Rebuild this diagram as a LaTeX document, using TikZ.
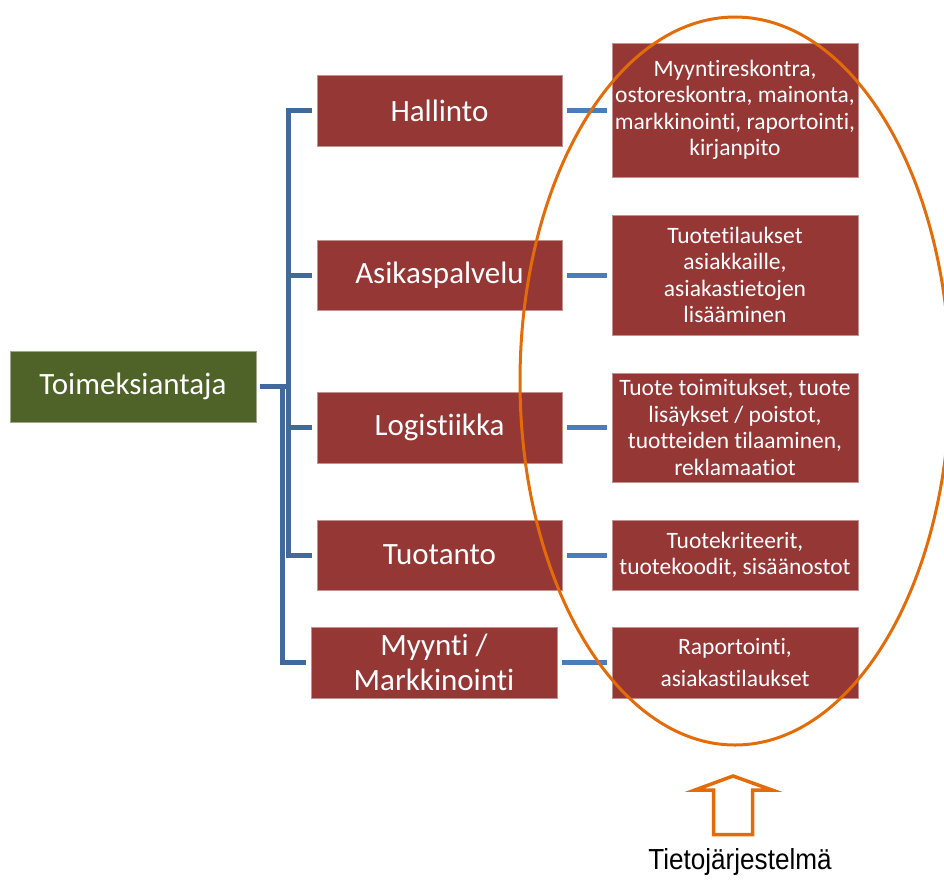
\documentclass[tikz,border=0pt]{standalone}
\usepackage{fontspec}
\setmainfont{Carlito}[Ligatures={NoCommon,NoRare,NoContextual}]
\newfontfamily\arialf{Liberation Sans}
\usetikzlibrary{calc}
\definecolor{boxred}{HTML}{953735}
\definecolor{boxgreen}{HTML}{4F6228}
\definecolor{linkblue}{HTML}{41699C}
\definecolor{tickblue}{HTML}{4A7DBA}
\definecolor{ringorange}{HTML}{E36C09}
\begin{document}
\begin{tikzpicture}[x=1pt,y=-1pt,
  box/.style={fill=boxred, draw=boxred!55!white, line width=0.6pt, text=white, align=center, inner sep=0pt},
  lvl1/.style={box, minimum width=245pt, minimum height=71pt, font=\fontsize{31}{35}\selectfont},
  leaf/.style={box, minimum width=246pt, font=\fontsize{23.5}{26.5}\selectfont},
  conn/.style={draw=linkblue, line width=5pt},
  tick/.style={draw=tickblue, line width=5pt},
  ring/.style={draw=ringorange, line width=3pt}]
\useasboundingbox (0,0) rectangle (944,879);
\clip (0,0) rectangle (944,879);

% root
\node[box, fill=boxgreen, draw=boxgreen!55!white, minimum width=246pt, minimum height=71pt,
      font=\fontsize{31}{35}\selectfont] (toim) at (133,386.5) {Toimeksiantaja};

% level 1
\node[lvl1] (hal) at (439.5,110.5) {Hallinto};
\node[lvl1, minimum height=70pt] (asi) at (439.5,275) {Asikaspalvelu};
\node[lvl1] (log) at (439.5,427.5) {Logistiikka};
\node[lvl1, minimum height=70pt] (tuo) at (439.5,555) {Tuotanto};
\node[lvl1, minimum width=246pt] (myy) at (434,662.5) {Myynti /\\Markkinointi};

% leaves
\node[leaf, minimum height=134pt] (r1) at (735,110) {Myyntireskontra,\\ostoreskontra, mainonta,\\markkinointi, raportointi,\\kirjanpito};
\node[leaf, minimum height=120pt] (r2) at (735,275) {Tuotetilaukset\\asiakkaille,\\asiakastietojen\\lisääminen};
\node[leaf, minimum height=109pt] (r3) at (735,427.5) {Tuote toimitukset, tuote\\lisäykset / poistot,\\tuotteiden tilaaminen,\\reklamaatiot};
\node[leaf, minimum height=70pt] (r4) at (735,555) {Tuotekriteerit,\\tuotekoodit, sisäänostot};
\node[leaf, minimum height=71pt, font=\fontsize{23.5}{32}\selectfont] (r5) at (735,662.5) {Raportointi,\\asiakastilaukset};

% left connectors
\draw[conn] ([xshift=4pt]toim.east) -| ([xshift=-28pt]hal.west) -- ([xshift=-5pt]hal.west);
\draw[conn] ([xshift=4pt]toim.east) -| ([xshift=-28pt]asi.west) -- ([xshift=-5pt]asi.west);
\draw[conn] ([xshift=4pt]toim.east) -| ([xshift=-28pt]log.west) -- ([xshift=-5pt]log.west);
\draw[conn] ([xshift=4pt]toim.east) -| ([xshift=-28pt]tuo.west) -- ([xshift=-5pt]tuo.west);
\draw[conn] ([xshift=4pt]toim.east) -| ([xshift=-28pt]myy.west) -- ([xshift=-5pt]myy.west);

% right connectors
\draw[tick] ([xshift=5pt]hal.east) -- ([xshift=-5pt]hal.east -| r1.west);
\draw[tick] ([xshift=5pt]asi.east) -- ([xshift=-5pt]asi.east -| r2.west);
\draw[tick] ([xshift=5pt]log.east) -- ([xshift=-5pt]log.east -| r3.west);
\draw[tick] ([xshift=5pt]tuo.east) -- ([xshift=-5pt]tuo.east -| r4.west);
\draw[tick] ([xshift=5pt]myy.east) -- ([xshift=-5pt]myy.east -| r5.west);

% ellipse
\draw[ring] (735,381) ellipse [x radius=215pt, y radius=364pt];

% block arrow
\draw[ringorange, line width=3.5pt, line join=miter]
  (733,776) -- (772,790) -- (752.5,790) -- (752.5,834.5) -- (713.5,834.5)
  -- (713.5,790) -- (695,790) -- cycle;

\node[font=\arialf\fontsize{29}{34}\selectfont, text=black, inner sep=0pt] (lbl) at (740,862)
  {\scalebox{0.9}[1]{Tietojärjestelmä}};
\end{tikzpicture}
\end{document}
